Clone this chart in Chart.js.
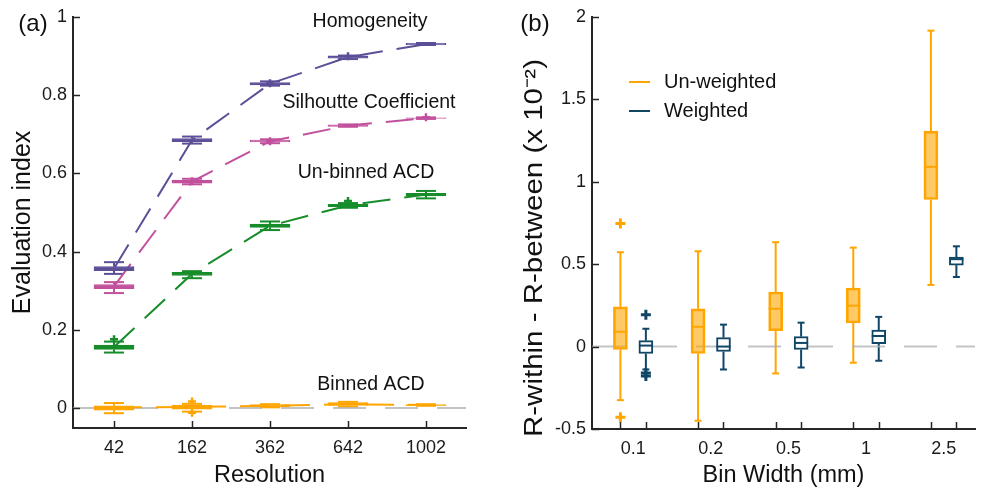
<!DOCTYPE html>
<html><head><meta charset="utf-8">
<script src="https://cdn.jsdelivr.net/npm/chart.js@4"></script>
<style>
html,body{margin:0;padding:0;background:#fff;width:983px;height:493px;overflow:hidden}
canvas{position:absolute;top:0}
#ca{left:0}
#cb{left:490px}
</style></head><body>
<canvas id="ca" width="490" height="493"></canvas>
<canvas id="cb" width="493" height="493"></canvas>
<script>
// ---------------- Panel (a) data ----------------
const resolutionLabels = ['42', '162', '362', '642', '1002'];

const homMedian = [0.357, 0.685, 0.829, 0.897, 0.930];
const homQ1     = [0.351, 0.681, 0.826, 0.894, 0.928];
const homQ3     = [0.362, 0.689, 0.832, 0.900, 0.932];
const homLow    = [0.343, 0.676, 0.824, 0.892, 0.928];
const homHigh   = [0.373, 0.694, 0.835, 0.901, 0.933];
const homOutliers = [[3, 0.830], [4, 0.899]];

const silMedian = [0.311, 0.579, 0.682, 0.722, 0.741];
const silQ1     = [0.305, 0.575, 0.680, 0.720, 0.740];
const silQ3     = [0.316, 0.583, 0.685, 0.724, 0.742];
const silLow    = [0.294, 0.572, 0.677, 0.719, 0.739];
const silHigh   = [0.322, 0.586, 0.687, 0.725, 0.743];
const silOutliers = [[2, 0.580], [3, 0.682], [5, 0.743]];

const acdMedian = [0.156, 0.343, 0.466, 0.518, 0.546];
const acdQ1     = [0.150, 0.339, 0.462, 0.515, 0.542];
const acdQ3     = [0.161, 0.347, 0.470, 0.521, 0.549];
const acdLow    = [0.142, 0.332, 0.455, 0.512, 0.536];
const acdHigh   = [0.170, 0.350, 0.477, 0.524, 0.555];
const acdOutliers = [[1, 0.176], [4, 0.529]];

const binMedian = [0.002, 0.003, 0.006, 0.010, 0.008];
const binQ1     = [-0.005, -0.003, 0.003, 0.007, 0.006];
const binQ3     = [0.006, 0.008, 0.009, 0.014, 0.009];
const binLow    = [-0.013, -0.009, 0.002, 0.004, 0.006];
const binHigh   = [0.013, 0.011, 0.010, 0.016, 0.010];
const binOutliers = [[2, 0.017], [2, -0.012]];

const evalTicks = [0, 0.2, 0.4, 0.6, 0.8, 1];

// ---------------- Panel (b) data ----------------
const binWidthLabels = ['0.1', '0.2', '0.5', '1', '2.5'];

const unwMedian = [0.090, 0.120, 0.229, 0.248, 1.090];
const unwQ1     = [-0.018, -0.042, 0.096, 0.143, 0.892];
const unwQ3     = [0.241, 0.229, 0.331, 0.355, 1.307];
const unwLow    = [-0.325, -0.450, -0.163, -0.098, 0.374];
const unwHigh   = [0.572, 0.578, 0.633, 0.600, 1.916];
const unwOutliers = [[1, 0.747], [1, -0.428]];

const wMedian = [0.006, 0.000, 0.022, 0.064, 0.530];
const wQ1     = [-0.042, -0.030, -0.018, 0.018, 0.494];
const wQ3     = [0.036, 0.054, 0.060, 0.100, 0.542];
const wLow    = [-0.139, -0.139, -0.127, -0.086, 0.422];
const wHigh   = [0.108, 0.133, 0.145, 0.180, 0.608];
const wOutliers = [[1, 0.193], [1, -0.160], [1, -0.178]];

const diffTicks = [-0.5, 0, 0.5, 1, 1.5, 2];

// ---------------- helpers ----------------
Chart.defaults.font.family = '"Liberation Sans", Arial, Helvetica, sans-serif';
Chart.defaults.color = '#1a1a1a';
const AXIS = '#262626';
const FONT = '"Liberation Sans", Arial, sans-serif';

function boxDataset(label, xs, q1, q3, low, high, med, color, fill, bw, capW, lw, medW) {
  return {
    type: 'bar', label, grouped: false, order: 1,
    data: xs.map((x, i) => ({x, y: [q1[i], q3[i]]})),
    backgroundColor: fill, borderColor: color, borderWidth: bw,
    borderSkipped: false,
    box: {low, high, q1, q3, med, color, capW, lw, medW}
  };
}
function trendDataset(xs, med, color) {
  return {
    type: 'line', order: 3, data: xs.map((x, i) => ({x, y: med[i]})),
    borderColor: color, borderWidth: 2, borderDash: [28, 14],
    pointRadius: 0, fill: false, tension: 0
  };
}
function outlierDataset(points, xOf, color, r, w) {
  return {
    type: 'scatter', order: 0,
    data: points.map(p => ({x: xOf(p[0]), y: p[1]})),
    pointStyle: 'cross', pointRadius: r, borderColor: color, borderWidth: w,
    backgroundColor: color
  };
}
function zeroDataset(xmin, xmax) {
  return {
    type: 'line', order: 5, data: [{x: xmin, y: 0}, {x: xmax, y: 0}],
    borderColor: 'rgba(175,175,175,0.75)', borderWidth: 2, borderDash: [33, 19],
    pointRadius: 0
  };
}
function line(ctx, x1, y1, x2, y2) { ctx.beginPath(); ctx.moveTo(x1, y1); ctx.lineTo(x2, y2); ctx.stroke(); }

const boxPlugin = {
  id: 'boxExtras',
  beforeDatasetsDraw(chart) {
    const {ctx, scales: {x, y}} = chart;
    chart.data.datasets.forEach((ds) => {
      if (!ds.box) return;
      const b = ds.box;
      ctx.save(); ctx.strokeStyle = b.color; ctx.lineWidth = b.lw; ctx.lineCap = 'butt';
      ds.data.forEach((d, j) => {
        const px = x.getPixelForValue(d.x);
        const yl = y.getPixelForValue(b.low[j]), yh = y.getPixelForValue(b.high[j]);
        const y1 = y.getPixelForValue(b.q1[j]), y3 = y.getPixelForValue(b.q3[j]);
        line(ctx, px, yh, px, y3); line(ctx, px, y1, px, yl);
        line(ctx, px - b.capW / 2, yh, px + b.capW / 2, yh);
        line(ctx, px - b.capW / 2, yl, px + b.capW / 2, yl);
      });
      ctx.restore();
    });
  },
  afterDatasetsDraw(chart) {
    const {ctx, scales: {y}} = chart;
    chart.data.datasets.forEach((ds, i) => {
      if (!ds.box || !ds.box.medW) return;
      const b = ds.box;
      const meta = chart.getDatasetMeta(i);
      ctx.save(); ctx.strokeStyle = b.color; ctx.lineWidth = 2;
      meta.data.forEach((el, j) => {
        const px = el.x, w = el.width;
        const ym = y.getPixelForValue(b.med[j]);
        line(ctx, px - w / 2, ym, px + w / 2, ym);
      });
      ctx.restore();
    });
  }
};

const decoPlugin = {
  id: 'deco',
  afterDraw(chart, args, opts) {
    const {ctx, chartArea: a, scales: {x, y}} = chart;
    ctx.save(); ctx.strokeStyle = AXIS; ctx.lineWidth = 1.5;
    (opts.xTicks || []).forEach(v => { const p = Math.round(x.getPixelForValue(v)) + 0.5; line(ctx, p, a.bottom, p, a.bottom - 7); });
    y.ticks.forEach(t => { const p = Math.round(y.getPixelForValue(t.value)) + 0.5; line(ctx, a.left, p, a.left + 7, p); });
    ctx.restore();
    ctx.save(); ctx.fillStyle = '#111'; ctx.textBaseline = 'middle';
    (opts.texts || []).forEach(t => {
      ctx.font = t.size + 'px ' + FONT;
      ctx.textAlign = t.align || 'center';
      ctx.fillText(t.text, t.x, t.y);
    });
    (opts.legend || []).forEach(l => {
      ctx.strokeStyle = l.color; ctx.lineWidth = 2;
      line(ctx, l.x, l.y, l.x + 21, l.y);
      ctx.font = '20px ' + FONT;
      ctx.textAlign = 'left'; ctx.fillStyle = '#111';
      ctx.fillText(l.text, l.x + 35, l.y);
    });
    const vt = opts.vtitle;
    if (vt) {
      ctx.save();
      ctx.font = vt.size + 'px ' + FONT;
      ctx.textAlign = 'center'; ctx.textBaseline = 'middle'; ctx.fillStyle = '#111';
      const w = ctx.measureText(vt.text).width;
      ctx.translate(vt.x, vt.y);
      ctx.rotate(-Math.PI / 2);
      ctx.scale(vt.length / w, 1);
      ctx.fillText(vt.text, 0, 0);
      ctx.restore();
    }
    ctx.restore();
  }
};

function axisCommon(extra) {
  return Object.assign({
    grid: {display: true, drawOnChartArea: false, drawTicks: false},
    border: {display: true, color: AXIS, width: 2}
  }, extra);
}

// ---------------- Chart (a) ----------------
const xa = [1, 2, 3, 4, 5];
const aMin = 0.474, aMax = 5.513;
const colHom = '#5C4F98', colSil = '#C2519D', colAcd = '#178C2B', colBin = '#FFA500';

new Chart(document.getElementById('ca'), {
  type: 'bar',
  data: {
    datasets: [
      zeroDataset(aMin, aMax),
      trendDataset(xa, homMedian, colHom),
      trendDataset(xa, silMedian, colSil),
      trendDataset(xa, acdMedian, colAcd),
      trendDataset(xa, binMedian, colBin),
      boxDataset('Homogeneity', xa, homQ1, homQ3, homLow, homHigh, homMedian, colHom, colHom, 1, 20, 2, 0),
      boxDataset('Silhoutte Coefficient', xa, silQ1, silQ3, silLow, silHigh, silMedian, colSil, colSil, 1, 20, 2, 0),
      boxDataset('Un-binned ACD', xa, acdQ1, acdQ3, acdLow, acdHigh, acdMedian, colAcd, colAcd, 1, 20, 2, 0),
      boxDataset('Binned ACD', xa, binQ1, binQ3, binLow, binHigh, binMedian, colBin, colBin, 1, 20, 2, 0),
      outlierDataset(homOutliers, k => k, colHom, 4, 2.5),
      outlierDataset(silOutliers, k => k, colSil, 4, 2.5),
      outlierDataset(acdOutliers, k => k, colAcd, 4, 2.5),
      outlierDataset(binOutliers, k => k, colBin, 4, 2.5)
    ].map(d => d.type === 'bar' ? Object.assign(d, {barThickness: 40}) : d)
  },
  options: {
    responsive: false, animation: false,
    layout: {padding: {top: 14, right: 24, left: 0, bottom: 0}},
    plugins: {
      legend: {display: false}, tooltip: {enabled: false},
      deco: {
        xTicks: xa,
        texts: [
          {text: '(a)', x: 33, y: 24, size: 24},
          {text: 'Homogeneity', x: 370, y: 22, size: 19.5},
          {text: 'Silhoutte Coefficient', x: 369, y: 103, size: 19.5},
          {text: 'Un-binned ACD', x: 366, y: 173, size: 19.5},
          {text: 'Binned ACD', x: 371, y: 385, size: 19.5}
        ]
      }
    },
    scales: {
      x: axisCommon({
        type: 'linear', min: aMin, max: aMax, offset: false,
        afterBuildTicks: s => { s.ticks = xa.map(v => ({value: v})); },
        afterFit: s => { s.height = 65; },
        ticks: {font: {size: 18}, padding: 9, maxRotation: 0, autoSkip: false,
                callback: (v, i) => resolutionLabels[i]},
        title: {display: true, text: 'Resolution', font: {size: 23.5}, padding: {top: 0, bottom: 3}, color: '#111'}
      }),
      y: axisCommon({
        type: 'linear', min: -0.0508, max: 1,
        afterBuildTicks: s => { s.ticks = evalTicks.map(v => ({value: v})); },
        afterFit: s => { s.width = 73; },
        ticks: {font: {size: 18}, padding: 6, callback: v => String(+(+v).toFixed(2))},
        title: {display: true, text: 'Evaluation index', font: {size: 25}, padding: {top: 8, bottom: 0}, color: '#111'}
      })
    }
  },
  plugins: [boxPlugin, decoPlugin]
});

// ---------------- Chart (b) ----------------
const xb = [1, 2, 3, 4, 5];
const off = 0.164;
const xUnw = xb.map(v => v - off), xW = xb.map(v => v + off);
const bMin = 0.47, bMax = 5.404;
const colUnw = '#FFA500', colW = '#0F4666';

new Chart(document.getElementById('cb'), {
  type: 'bar',
  data: {
    datasets: [
      zeroDataset(bMin, bMax),
      Object.assign(boxDataset('Un-weighted', xUnw, unwQ1, unwQ3, unwLow, unwHigh, unwMedian, colUnw, 'rgba(255,165,0,0.6)', 2, 7, 2, 1), {barThickness: 14}),
      Object.assign(boxDataset('Weighted', xW, wQ1, wQ3, wLow, wHigh, wMedian, colW, '#ffffff', 2, 7, 2, 1), {barThickness: 14}),
      outlierDataset(unwOutliers, k => xUnw[k - 1], colUnw, 5, 3),
      outlierDataset(wOutliers, k => xW[k - 1], colW, 5, 3)
    ]
  },
  options: {
    responsive: false, animation: false,
    layout: {padding: {top: 14, right: 0, left: 0, bottom: 0}},
    plugins: {
      legend: {display: false}, tooltip: {enabled: false},
      deco: {
        xTicks: xUnw.concat(xW),
        texts: [{text: '(b)', x: 45, y: 24, size: 24}],
        legend: [
          {text: 'Un-weighted', color: colUnw, x: 139, y: 82},
          {text: 'Weighted', color: colW, x: 139, y: 111}
        ],
        vtitle: {text: 'R-within - R-between (x 10\u207B\u00B2)', x: 45, y: 248, size: 25, length: 378}
      }
    },
    scales: {
      x: axisCommon({
        type: 'linear', min: bMin, max: bMax, offset: false,
        afterBuildTicks: s => { s.ticks = xb.map(v => ({value: v})); },
        afterFit: s => { s.height = 64; },
        ticks: {font: {size: 18}, padding: 9, maxRotation: 0, autoSkip: false,
                callback: (v, i) => binWidthLabels[i]},
        title: {display: true, text: 'Bin Width (mm)', font: {size: 23.5}, padding: {top: 0, bottom: 3}, color: '#111'}
      }),
      y: axisCommon({
        type: 'linear', min: -0.5, max: 2,
        afterBuildTicks: s => { s.ticks = diffTicks.map(v => ({value: v})); },
        afterFit: s => { s.width = 102; },
        ticks: {font: {size: 18}, padding: 6, callback: v => String(+(+v).toFixed(2))},
        title: {display: false, text: 'R-within - R-between (x 10\u207B\u00B2)'}
      })
    }
  },
  plugins: [boxPlugin, decoPlugin]
});
</script>
</body></html>
